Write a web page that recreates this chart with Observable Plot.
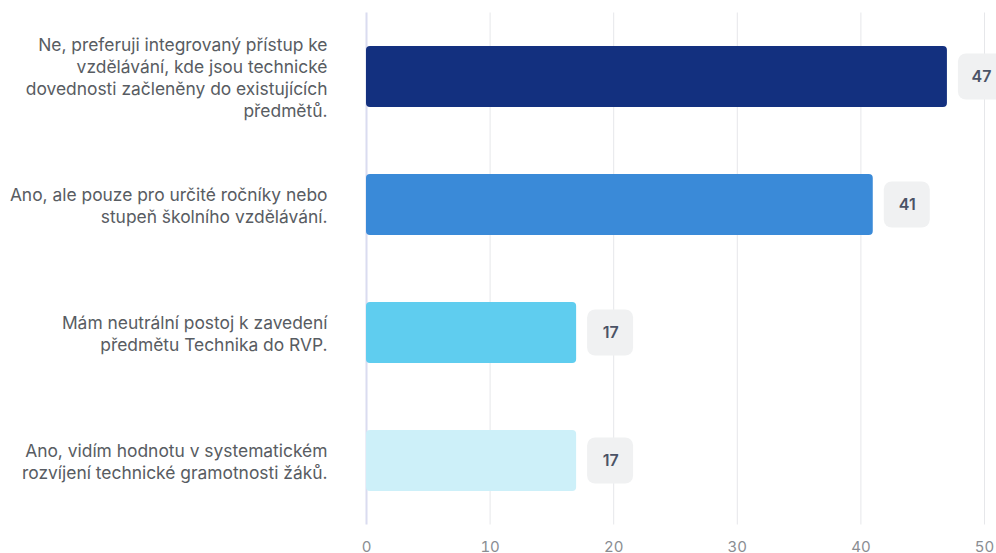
<!DOCTYPE html>
<html>
<head>
<meta charset="utf-8">
<script src="https://cdn.jsdelivr.net/npm/d3@7"></script>
<script src="https://cdn.jsdelivr.net/npm/@observablehq/plot@0.6"></script>
<style>
  html, body { margin: 0; padding: 0; background: #fff; }
  svg { font-family: Inter, "Noto Sans", sans-serif; }
</style>
</head>
<body>
<div id="chart"></div>
<script>
const categories = [
  "Ne, preferuji integrovaný přístup ke\nvzdělávání, kde jsou technické\ndovednosti začleněny do existujících\npředmětů.",
  "Ano, ale pouze pro určité ročníky nebo\nstupeň školního vzdělávání.",
  "Mám neutrální postoj k zavedení\npředmětu Technika do RVP.",
  "Ano, vidím hodnotu v systematickém\nrozvíjení technické gramotnosti žáků."
];
const values = [47, 41, 17, 17];
const colors = ["#13307f", "#3a8ad8", "#5fcdef", "#cdf0f9"];
const xTicks = [0, 10, 20, 30, 40, 50];

const data = categories.map((c, i) => ({label: c, value: values[i], color: colors[i]}));

const chart = Plot.plot({
  width: 996,
  height: 553,
  marginLeft: 366,
  marginRight: 12,
  marginTop: 12.5,
  marginBottom: 28.5,
  style: {fontFamily: "Inter, 'Noto Sans', sans-serif", background: "#fff"},
  x: {domain: [0, 50], ticks: xTicks, label: null},
  y: {domain: categories, paddingInner: 0.523, paddingOuter: 0.2615, axis: null},
  marks: [
    Plot.ruleX(xTicks.filter(d => d > 0), {stroke: "#e6e7ea", strokeWidth: 1}),
    Plot.ruleX([0], {stroke: "#dadcf0", strokeWidth: 2}),
    Plot.barX(data, {x: "value", y: "label", fill: "color", rx: 4}),
    Plot.rect(data, {
      x1: "value", x2: "value", y: "label",
      insetLeft: 11, insetRight: -57, insetTop: 7.5, insetBottom: 7.5,
      fill: "#f0f1f2", rx: 8
    }),
    Plot.text(data, {
      x: "value", y: "label", text: d => String(d.value),
      dx: 34, fontSize: 16, fontWeight: 600, fill: "#4b5366", textAnchor: "middle"
    }),
    Plot.text(data, {
      x: () => 0, y: "label", text: "label",
      dx: -39, textAnchor: "end", fontSize: 17.4, lineHeight: 1.27, fill: "#585c62"
    }),
    Plot.axisX({ticks: xTicks, tickSize: 0, tickPadding: 16, fontSize: 15, color: "#8a8d92", anchor: "bottom", label: null})
  ]
});
document.getElementById("chart").appendChild(chart);
</script>
</body>
</html>
